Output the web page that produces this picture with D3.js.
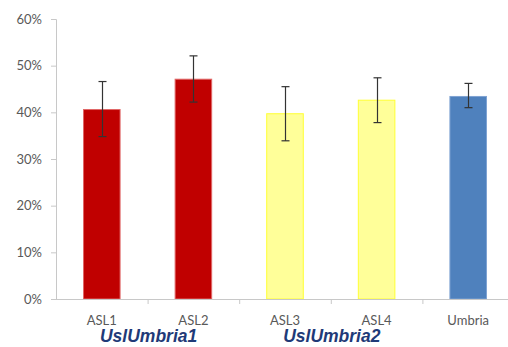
<!DOCTYPE html>
<html><head><meta charset="utf-8">
<script src="https://cdn.jsdelivr.net/npm/d3@7"></script>
<style>body{margin:0;background:#fff}svg{display:block}</style>
</head><body>
<svg id="c" width="508" height="347"></svg>
<script>
const categories = ["ASL1","ASL2","ASL3","ASL4","Umbria"];
const values = [0.406, 0.471, 0.397, 0.426, 0.434];
const errLow = [0.348, 0.422, 0.339, 0.378, 0.410];
const errHigh = [0.466, 0.521, 0.455, 0.474, 0.462];
const colors = ["#C00000","#C00000","#FFFF99","#FFFF99","#4F81BD"];
const strokes = ["#E06666","#E06666","#FFFF33","#FFFF33","#7FA3D3"];
const groups = [{name:"UslUmbria1", from:"ASL1", to:"ASL2"},{name:"UslUmbria2", from:"ASL3", to:"ASL4"}];
const yTicks = [0,0.1,0.2,0.3,0.4,0.5,0.6];

const svg = d3.select("#c");
const x = d3.scaleBand().domain(categories).range([56, 514]).paddingInner(0.59).paddingOuter(0.295);
const xStep = d3.scaleBand().domain(categories).range([56, 514]);
const y = d3.scaleLinear().domain([0,0.6]).range([299, 19]);
const axisColor = "#C8C8C8";

// y axis
const ya = svg.append("g").attr("transform","translate(56,0)")
  .call(d3.axisLeft(y).tickValues(yTicks).tickFormat(d3.format(".0%")).tickSizeOuter(0).tickSize(5).tickPadding(9));
ya.select(".domain").attr("stroke",axisColor);
ya.selectAll(".tick line").attr("stroke",axisColor);
ya.selectAll("text").attr("fill","#595959").style("font-family","Lato, 'Open Sans', sans-serif").style("font-size","13px");

// bars
svg.append("g").selectAll("rect").data(categories).join("rect")
  .attr("x", d => x(d)+0.5).attr("y", (d,i) => y(values[i]))
  .attr("width", x.bandwidth()-1).attr("height", (d,i) => y(0)-y(values[i]))
  .attr("fill",(d,i)=>colors[i]).attr("stroke",(d,i)=>strokes[i]).attr("stroke-width",1);

// x axis
svg.append("line").attr("x1",56).attr("x2",508).attr("y1",299.5).attr("y2",299.5).attr("stroke",axisColor);
svg.append("g").selectAll("line").data(categories.slice(1)).join("line")
  .attr("x1", d => xStep(d)+0.5).attr("x2", d => xStep(d)+0.5)
  .attr("y1",299.5).attr("y2",304).attr("stroke",axisColor);
svg.append("g").selectAll("text").data(categories).join("text")
  .attr("x", d => x(d)+x.bandwidth()/2).attr("y",325).attr("text-anchor","middle")
  .attr("fill","#595959").style("font-family","Lato, 'Open Sans', sans-serif").style("font-size","13px")
  .text(d=>d);

// error bars
const eg = svg.append("g").attr("stroke","#333").attr("stroke-width",1.2);
categories.forEach((c,i)=>{
  const cx = Math.round(x(c)+x.bandwidth()/2)+0.5;
  eg.append("line").attr("x1",cx).attr("x2",cx).attr("y1",y(errLow[i])).attr("y2",y(errHigh[i]));
  eg.append("line").attr("x1",cx-4).attr("x2",cx+4).attr("y1",y(errLow[i])).attr("y2",y(errLow[i]));
  eg.append("line").attr("x1",cx-4).attr("x2",cx+4).attr("y1",y(errHigh[i])).attr("y2",y(errHigh[i]));
});

// group labels
svg.append("g").selectAll("text").data(groups).join("text")
  .attr("x", g => (x(g.from)+x(g.to)+x.bandwidth())/2 + 1).attr("y",342).attr("text-anchor","middle")
  .attr("fill","#1F3A78").style("font-family","'Liberation Sans', Arial, sans-serif")
  .style("font-size","17.5px").style("font-weight","bold").style("font-style","italic")
  .text(g=>g.name);
</script>
</body></html>
